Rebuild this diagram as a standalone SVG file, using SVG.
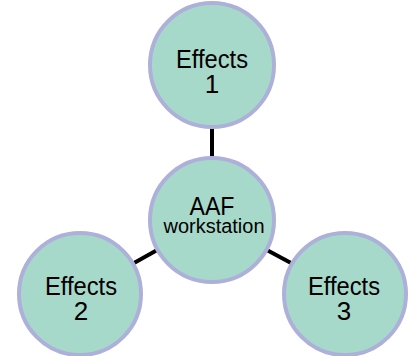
<svg xmlns="http://www.w3.org/2000/svg" width="413" height="356" viewBox="0 0 413 356">
<style>
.node{fill:#a7d9cb;stroke:#adb0d9;stroke-width:4}
.lbl{font-family:"Liberation Sans",Arial,sans-serif;fill:#000;text-anchor:middle}
.big{font-size:26px}
.sm{font-size:20px}
.conn{stroke:#000;stroke-width:4;fill:none}
</style>
<rect width="413" height="356" fill="#fff"/>
<g id="connectors">
<line class="conn" x1="212" y1="126" x2="212" y2="159"/>
<line class="conn" x1="134" y1="263" x2="159" y2="249"/>
<line class="conn" x1="265" y1="249" x2="291" y2="263"/>
</g>
<g id="effects1">
<circle class="node" cx="212" cy="65" r="62"/>
<text class="lbl big" x="212" y="68" textLength="72" lengthAdjust="spacingAndGlyphs">Effects</text>
<text class="lbl big" x="212" y="93">1</text>
</g>
<g id="aaf">
<circle class="node" cx="212" cy="220" r="62"/>
<text class="lbl big" x="212" y="215" textLength="45" lengthAdjust="spacingAndGlyphs">AAF</text>
<text class="lbl sm" x="214" y="233" textLength="101" lengthAdjust="spacingAndGlyphs">workstation</text>
</g>
<g id="effects2">
<circle class="node" cx="80" cy="294" r="61"/>
<text class="lbl big" x="81" y="295" textLength="72" lengthAdjust="spacingAndGlyphs">Effects</text>
<text class="lbl big" x="81" y="320">2</text>
</g>
<g id="effects3">
<circle class="node" cx="345" cy="294" r="61"/>
<text class="lbl big" x="344" y="295" textLength="72" lengthAdjust="spacingAndGlyphs">Effects</text>
<text class="lbl big" x="344" y="320">3</text>
</g>
</svg>
